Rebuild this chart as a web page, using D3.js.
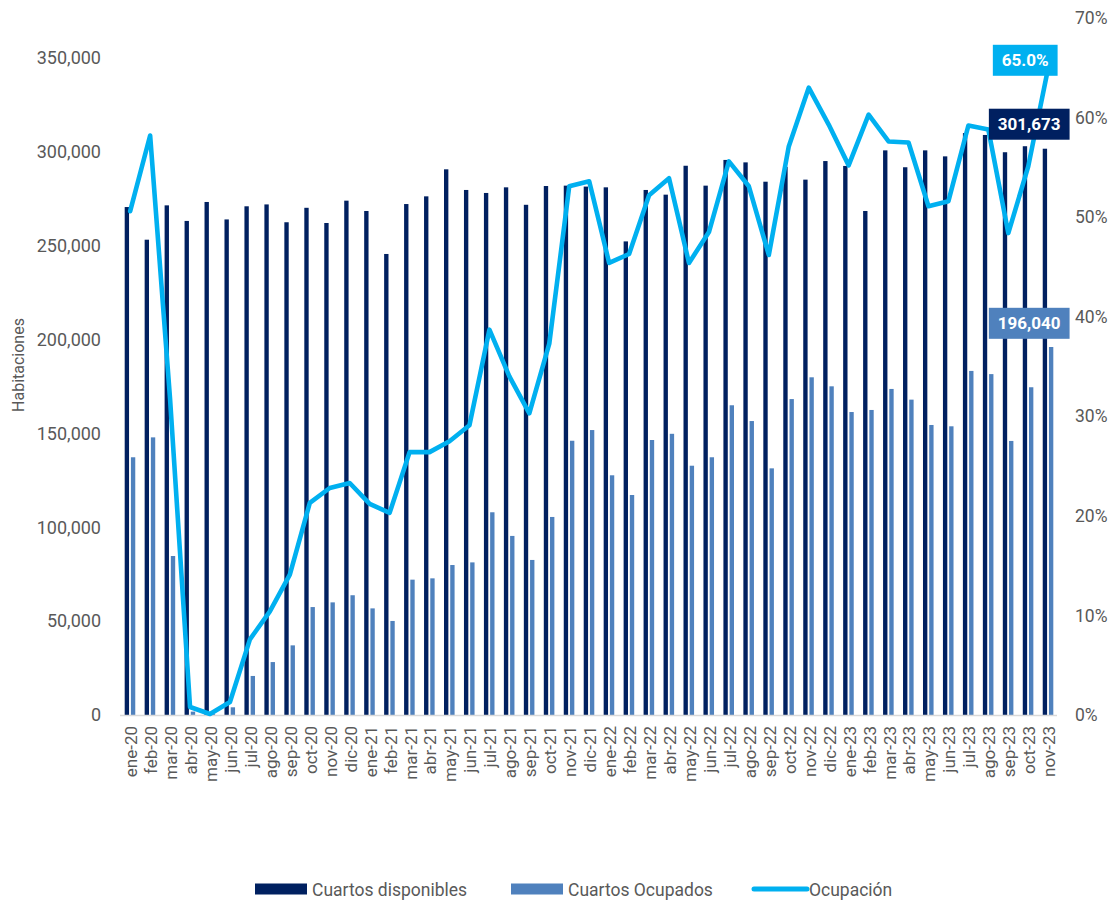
<!DOCTYPE html>
<html>
<head>
<meta charset="utf-8">
<script src="https://cdn.jsdelivr.net/npm/d3@7"></script>
<style>
  html, body { margin: 0; padding: 0; background: #fff; }
  svg { display: block; font-family: Roboto, "Noto Sans", sans-serif; }
</style>
</head>
<body>
<div id="chart"></div>
<script>
// Months on the x axis
const months = [
    'ene-20','feb-20','mar-20','abr-20','may-20','jun-20','jul-20','ago-20','sep-20','oct-20','nov-20','dic-20',
    'ene-21','feb-21','mar-21','abr-21','may-21','jun-21','jul-21','ago-21','sep-21','oct-21','nov-21','dic-21',
    'ene-22','feb-22','mar-22','abr-22','may-22','jun-22','jul-22','ago-22','sep-22','oct-22','nov-22','dic-22',
    'ene-23','feb-23','mar-23','abr-23','may-23','jun-23','jul-23','ago-23','sep-23','oct-23','nov-23'
];

// Cuartos disponibles
const disponibles = [
    270600, 253200, 271500, 263200, 273300, 264000, 271000, 272000, 262500, 270200, 262100, 274000,
    268500, 245600, 272200, 276300, 290700, 279700, 278100, 281100, 271800, 281800, 282000, 281500,
    281100, 252300, 279700, 277200, 292600, 282000, 295700, 294400, 284100, 292000, 285200, 295100,
    292500, 268500, 300800, 291800, 300800, 297600, 310000, 309000, 299800, 303000, 301673
];

// Cuartos Ocupados
const ocupados = [
    137300, 147900, 84700, 1800, 500, 4100, 20800, 28200, 37100, 57500, 60000, 63800,
    56800, 50100, 72100, 72800, 79900, 81300, 108000, 95400, 82600, 105500, 146100, 151800,
    127700, 117200, 146500, 149800, 132800, 137300, 165000, 156600, 131400, 168300, 179900, 175100,
    161400, 162500, 173700, 168000, 154500, 153800, 183300, 181600, 146000, 174600, 196040
];

// Ocupación (%)
const ocupacion = [
    50.6, 58.2, 31.7, 0.8, 0.1, 1.3, 7.6, 10.4, 14.1, 21.3, 22.8, 23.3,
    21.2, 20.3, 26.4, 26.4, 27.5, 29.1, 38.7, 34.0, 30.3, 37.3, 53.1, 53.6,
    45.4, 46.3, 52.2, 53.9, 45.4, 48.5, 55.6, 53.1, 46.2, 57.1, 63.0, 59.3,
    55.2, 60.3, 57.6, 57.5, 51.1, 51.6, 59.2, 58.8, 48.4, 55.1, 65.0
];

const leftTicks = [0, 50000, 100000, 150000, 200000, 250000, 300000, 350000];
const rightTicks = [0, 10, 20, 30, 40, 50, 60, 70];

const seriesNames = ['Cuartos disponibles', 'Cuartos Ocupados', 'Ocupación'];
const colors = { disp: '#002060', ocup: '#4F81BD', line: '#00B0F0', text: '#595959', axis: '#D9D9D9' };

const W = 1112, H = 900;
const plot = { left: 120, right: 1058, top: 18, bottom: 715 };

const svg = d3.select('#chart').append('svg')
    .attr('width', W).attr('height', H);

// Scales
const x = d3.scaleBand()
    .domain(months)
    .range([plot.left, plot.right])
    .paddingInner(0.47)
    .paddingOuter(0.235);

const xSub = d3.scaleBand()
    .domain(['disp', 'ocup'])
    .range([0, x.bandwidth()])
    .paddingInner(0.3);

// Primary axis top sits a bit above 350,000 in the original
const yLeft = d3.scaleLinear()
    .domain([0, 350000 * 697 / 657])
    .range([plot.bottom, plot.top]);

const yRight = d3.scaleLinear()
    .domain([0, 70])
    .range([plot.bottom, plot.top]);

const cx = m => x(m) + x.bandwidth() / 2 + 0.2;

// Bars
const rows = months.map((m, i) => ({ m, disp: disponibles[i], ocup: ocupados[i], pct: ocupacion[i] }));

svg.append('g').selectAll('rect')
    .data(rows)
    .join('rect')
    .attr('x', d => x(d.m) + xSub('disp'))
    .attr('y', d => yLeft(d.disp))
    .attr('width', xSub.bandwidth())
    .attr('height', d => yLeft(0) - yLeft(d.disp))
    .attr('fill', colors.disp);

svg.append('g').selectAll('rect')
    .data(rows)
    .join('rect')
    .attr('x', d => x(d.m) + xSub('ocup'))
    .attr('y', d => yLeft(d.ocup))
    .attr('width', xSub.bandwidth())
    .attr('height', d => yLeft(0) - yLeft(d.ocup))
    .attr('fill', colors.ocup);

// Baseline
svg.append('line')
    .attr('x1', plot.left).attr('x2', plot.right - 1)
    .attr('y1', plot.bottom + 0.5).attr('y2', plot.bottom + 0.5)
    .attr('stroke', colors.axis).attr('stroke-width', 1.5);

// Occupancy line
const line = d3.line()
    .x(d => cx(d.m))
    .y(d => yRight(d.pct));

svg.append('path')
    .datum(rows)
    .attr('d', line)
    .attr('fill', 'none')
    .attr('stroke', colors.line)
    .attr('stroke-width', 4.6)
    .attr('stroke-linejoin', 'round')
    .attr('stroke-linecap', 'round');

// Left axis
const gl = svg.append('g')
    .attr('transform', `translate(${plot.left - 19},0)`)
    .call(d3.axisLeft(yLeft).tickValues(leftTicks).tickSize(0).tickFormat(d3.format(',')));
gl.select('.domain').remove();
gl.selectAll('text')
    .attr('x', 0)
    .attr('fill', colors.text)
    .attr('font-size', 18)
    .attr('font-family', 'Roboto, sans-serif');

// Right axis
const gr = svg.append('g')
    .attr('transform', `translate(${plot.right + 17},0)`)
    .call(d3.axisRight(yRight).tickValues(rightTicks).tickSize(0).tickFormat(d => d + '%'));
gr.select('.domain').remove();
gr.selectAll('text')
    .attr('x', 0)
    .attr('fill', colors.text)
    .attr('font-size', 17.5)
    .attr('font-family', 'Roboto, sans-serif');

// X labels, rotated
svg.append('g').selectAll('text')
    .data(months)
    .join('text')
    .attr('transform', d => `translate(${cx(d) + 1},${plot.bottom + 11}) rotate(-90)`)
    .attr('text-anchor', 'end')
    .attr('dy', '0.35em')
    .attr('fill', colors.text)
    .attr('font-size', 17)
    .text(d => d);

// Y axis title
svg.append('text')
    .attr('transform', `translate(24,365) rotate(-90)`)
    .attr('text-anchor', 'middle')
    .attr('fill', colors.text)
    .attr('font-size', 16)
    .text('Habitaciones');

// Data labels for the last month
const last = rows[rows.length - 1];
const labels = [
    { text: d3.format('.1f')(last.pct) + '%', fill: colors.line, x: cx(last.m) - 23, y: yRight(last.pct) - 7.5 },
    { text: d3.format(',')(last.disp), fill: colors.disp, x: cx(last.m) - 19, y: yLeft(last.disp) - 24.5 },
    { text: d3.format(',')(last.ocup), fill: colors.ocup, x: cx(last.m) - 19, y: yLeft(last.ocup) - 23.7 }
];

labels.forEach(l => {
    const g = svg.append('g');
    const rect = g.append('rect').attr('fill', l.fill);
    const t = g.append('text')
        .attr('x', l.x).attr('y', l.y)
        .attr('text-anchor', 'middle')
        .attr('dominant-baseline', 'central')
        .attr('fill', '#fff')
        .attr('font-size', 17)
        .attr('font-weight', 700)
        .text(l.text);
    const w = t.node().getComputedTextLength() + 18;
    rect.attr('x', l.x - w / 2).attr('y', l.y - 15.5)
        .attr('width', w).attr('height', 31);
});

// Legend
const legend = svg.append('g').attr('transform', 'translate(0,889)');
const legendItems = [
    { name: seriesNames[0], type: 'rect', color: colors.disp, x: 255 },
    { name: seriesNames[1], type: 'rect', color: colors.ocup, x: 511 },
    { name: seriesNames[2], type: 'line', color: colors.line, x: 752 }
];
legendItems.forEach(it => {
    if (it.type === 'rect') {
        legend.append('rect')
            .attr('x', it.x).attr('y', -5.5)
            .attr('width', 52).attr('height', 11)
            .attr('fill', it.color);
    } else {
        legend.append('line')
            .attr('x1', it.x + 2).attr('x2', it.x + 55)
            .attr('y1', 0).attr('y2', 0)
            .attr('stroke', it.color).attr('stroke-width', 5)
            .attr('stroke-linecap', 'round');
    }
    legend.append('text')
        .attr('x', it.x + 57)
        .attr('y', 1)
        .attr('dominant-baseline', 'central')
        .attr('fill', colors.text)
        .attr('font-size', 17.5)
        .text(it.name);
});
</script>
</body>
</html>
